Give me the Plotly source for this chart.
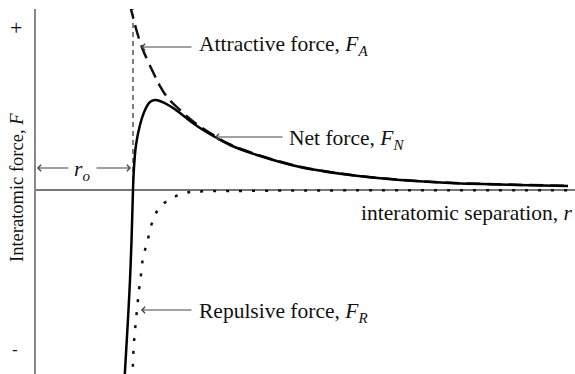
import plotly.graph_objects as go

# Interatomic separation r (arbitrary units, r0 = 1) and force F (arbitrary units)
r_net = [0.912, 0.948, 0.969, 0.985, 1.000, 1.010, 1.031, 1.072, 1.124, 1.175, 1.227,
         1.278, 1.381, 1.485, 1.588, 1.691, 1.845, 2.000, 2.278, 2.722, 3.237,
         3.753, 4.268, 4.959, 5.485]
f_net = [-1.90, -1.30, -0.90, -0.50, 0.00, 0.22, 0.45, 0.65, 0.80, 0.88, 0.90,
         0.89, 0.84, 0.77, 0.69, 0.62, 0.53, 0.45, 0.35, 0.23, 0.15,
         0.10, 0.07, 0.05, 0.04]

r_att = [0.969, 1.000, 1.041, 1.103, 1.206, 1.278, 1.351, 1.485, 1.588, 1.691,
         1.845, 2.000, 2.278, 2.722, 3.237, 3.753, 4.268, 4.959, 5.485]
f_att = [1.85, 1.73, 1.58, 1.40, 1.18, 1.04, 0.93, 0.80, 0.71, 0.635,
         0.54, 0.455, 0.355, 0.233, 0.152, 0.102, 0.072, 0.052, 0.042]

r_rep = [0.995, 1.005, 1.021, 1.041, 1.062, 1.082, 1.103, 1.144, 1.206, 1.278,
         1.402, 1.536, 1.670, 2.000, 2.722, 3.753, 5.485]
f_rep = [-1.90, -1.60, -1.40, -1.20, -1.00, -0.85, -0.68, -0.53, -0.30, -0.17,
         -0.08, -0.03, -0.015, -0.01, -0.005, -0.003, -0.002]

r0 = 1.0
r_marker = [r0, r0]
f_marker = [0.0, 1.83]

X_RANGE = [0, 5.557]
Y_RANGE = [-1.84, 1.81]

FONT = "Liberation Serif, Times New Roman, serif"
TXT = "#111111"
FS = 21.5

fig = go.Figure()

# equilibrium spacing marker
fig.add_trace(go.Scatter(x=r_marker, y=f_marker, mode="lines",
                         line=dict(color="#555555", width=1.5, dash="5px,4px"),
                         hoverinfo="skip"))
# repulsive force
fig.add_trace(go.Scatter(x=r_rep, y=f_rep, mode="lines", line_shape="spline",
                         line=dict(color="#111111", width=2.5, dash="3px,10px"),
                         hoverinfo="skip"))
# attractive force
fig.add_trace(go.Scatter(x=r_att, y=f_att, mode="lines", line_shape="spline",
                         line=dict(color="#111111", width=2.5, dash="14px,7px"),
                         hoverinfo="skip"))
# net force
fig.add_trace(go.Scatter(x=r_net, y=f_net, mode="lines", line_shape="spline",
                         line=dict(color="#000000", width=2.5),
                         hoverinfo="skip"))

annotations = []

def label(x, y, text, xanchor="left", angle=0, size=FS, xref="x"):
    annotations.append(dict(x=x, y=y, xref=xref, yref="y", text=text, showarrow=False,
                            xanchor=xanchor, yanchor="middle", textangle=angle,
                            font=dict(family=FONT, size=size, color=TXT)))

def arrow(x, y, ax, ay):
    annotations.append(dict(x=x, y=y, ax=ax, ay=ay, xref="x", yref="y",
                            axref="x", ayref="y", text="", showarrow=True,
                            arrowhead=4, arrowsize=1.1, arrowwidth=1.1,
                            arrowcolor="#444444", standoff=0, startstandoff=0))

label(1.66, 1.45, "Attractive force, <i>F</i><sub><i>A</i></sub>")
arrow(1.082, 1.43, 1.619, 1.43)

label(2.588, 0.51, "Net force, <i>F</i><sub><i>N</i></sub>")
arrow(1.845, 0.53, 2.557, 0.53)

label(1.66, -1.22, "Repulsive force, <i>F</i><sub><i>R</i></sub>")
arrow(1.082, -1.20, 1.619, -1.20)

label(5.545, -0.23, "interatomic separation, <i>r</i>", xanchor="right")

label(0.474, 0.20, "<i>r</i><sub><i>o</i></sub>", xanchor="center")
arrow(0.01, 0.22, 0.35, 0.22)
arrow(0.979, 0.22, 0.608, 0.22)

# force sign marks and axis title sit left of the plotting area
label(-0.0371, 1.63, "+", xanchor="center", size=22, xref="paper")
label(-0.039, -1.59, "-", xanchor="center", size=17, xref="paper")
label(-0.0353, 0.03, "Interatomic force, <i>F</i>", xanchor="center", angle=-90,
      size=18.5, xref="paper")

fig.update_layout(
    width=575, height=374,
    margin=dict(l=36, r=0, t=9, b=0),
    paper_bgcolor="white", plot_bgcolor="white",
    showlegend=False,
    annotations=annotations,
    xaxis=dict(range=X_RANGE, showgrid=False, zeroline=False, showticklabels=False,
               ticks="", showline=False, fixedrange=True),
    yaxis=dict(range=Y_RANGE, showgrid=False, zeroline=True, zerolinecolor="#777777",
               zerolinewidth=1.5, showticklabels=False, ticks="",
               showline=True, linecolor="#888888", linewidth=2, fixedrange=True),
)

fig.write_html("out.html", config={"displayModeBar": False})
